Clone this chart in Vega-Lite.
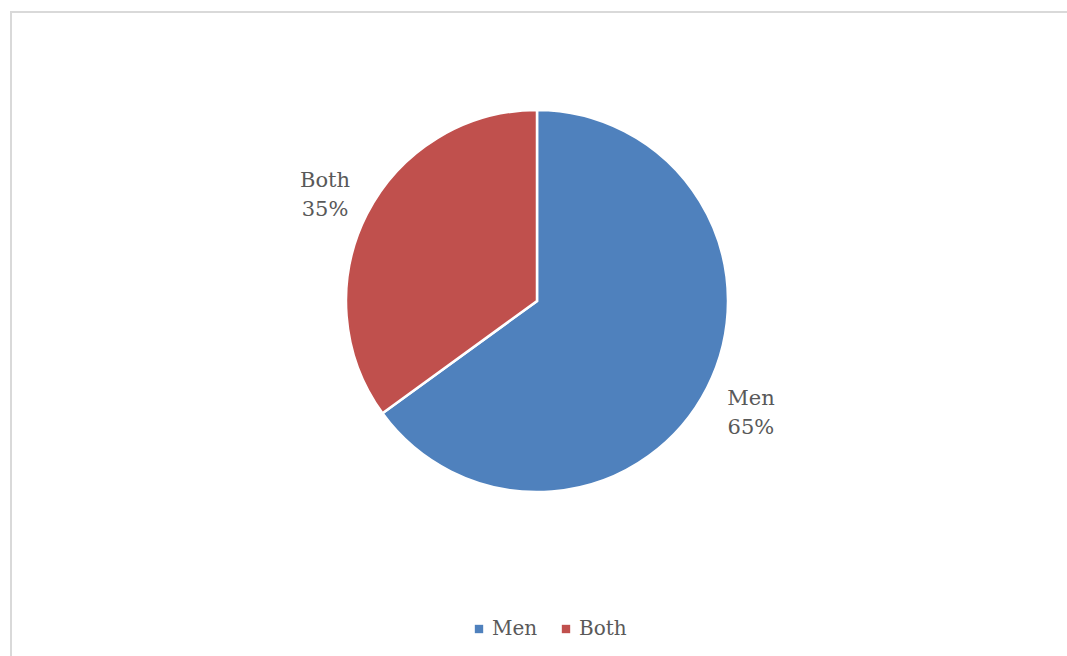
{
  "$schema": "https://vega.github.io/schema/vega-lite/v6.json",
  "width": 1060,
  "height": 650,
  "autosize": {"type": "none"},
  "padding": {"left": 11, "top": 12, "right": 0, "bottom": 0},
  "background": "white",
  "view": {"stroke": "#D9D9D9", "strokeWidth": 2, "fill": "white"},
  "config": {
    "font": "DejaVu Serif"
  },
  "data": {
    "values": [
      {"category": "Men", "value": 65, "label": "Men\n65%"},
      {"category": "Both", "value": 35, "label": "Both\n35%"}
    ]
  },
  "encoding": {
    "theta": {"field": "value", "type": "quantitative", "stack": true},
    "order": {"field": "value", "type": "quantitative", "sort": "descending"},
    "color": {
      "field": "category",
      "type": "nominal",
      "sort": ["Men", "Both"],
      "scale": {"domain": ["Men", "Both"], "range": ["#4F81BD", "#C0504D"]},
      "legend": {
        "title": null,
        "orient": "none",
        "direction": "horizontal",
        "legendX": 458,
        "legendY": 607,
        "symbolType": "square",
        "symbolSize": 70,
        "symbolStrokeWidth": 0,
        "symbolOpacity": 1,
        "labelFont": "DejaVu Serif",
        "labelFontSize": 20,
        "labelColor": "#595959",
        "labelOffset": 3,
        "columnPadding": 18
      }
    }
  },
  "layer": [
    {
      "mark": {"type": "arc", "outerRadius": 191, "stroke": "white", "strokeWidth": 2.5, "xOffset": -4, "yOffset": -36}
    },
    {
      "mark": {"type": "text", "radius": 239, "xOffset": -3, "yOffset": -47, "font": "DejaVu Serif", "fontSize": 21, "color": "#595959", "lineBreak": "\n", "lineHeight": 29, "align": "center", "baseline": "middle"},
      "encoding": {
        "text": {"field": "label", "type": "nominal"},
        "color": {"value": "#595959"}
      }
    }
  ]
}
